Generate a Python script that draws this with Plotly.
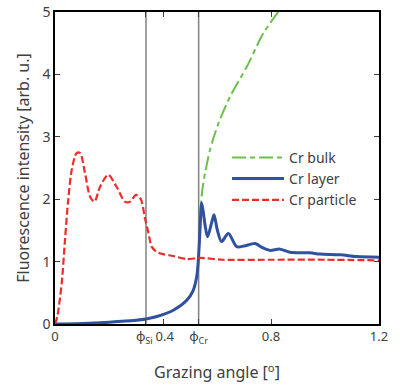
import plotly.graph_objects as go

# ---- data ----
phi_si = 0.337
phi_cr = 0.532

bulk_x = [0.0, 0.1, 0.2, 0.3, 0.337, 0.377, 0.438, 0.488, 0.512, 0.525, 0.531, 0.537, 0.543,
          0.549, 0.556, 0.574, 0.605, 0.648, 0.710, 0.772, 0.835]
bulk_y = [0.0, 0.01, 0.03, 0.06, 0.08, 0.12, 0.22, 0.38, 0.54, 0.76, 1.03, 1.55, 2.05,
          2.25, 2.42, 2.79, 3.21, 3.64, 4.12, 4.66, 5.05]

layer_x = [0.0, 0.1, 0.2, 0.3, 0.337, 0.377, 0.438, 0.488, 0.512, 0.525, 0.531, 0.537, 0.543,
           0.549, 0.556, 0.565, 0.58, 0.589, 0.601, 0.617, 0.642, 0.673, 0.70, 0.741, 0.77,
           0.796, 0.833, 0.87, 0.944, 0.981, 1.056, 1.117, 1.2]
layer_y = [0.0, 0.01, 0.03, 0.06, 0.08, 0.12, 0.22, 0.38, 0.54, 0.76, 1.03, 1.51, 1.94,
           1.80, 1.58, 1.40, 1.62, 1.75, 1.51, 1.32, 1.45, 1.24, 1.25, 1.29, 1.22,
           1.18, 1.20, 1.15, 1.14, 1.12, 1.11, 1.08, 1.07]

part_x = [0.0, 0.0085, 0.025, 0.037, 0.049, 0.062, 0.080, 0.093, 0.111, 0.130, 0.146, 0.167,
          0.197, 0.228, 0.259, 0.278, 0.300, 0.318, 0.333, 0.346, 0.358, 0.375, 0.4, 0.438,
          0.488, 0.537, 0.622, 0.8, 1.0, 1.2]
part_y = [0.0, 0.12, 0.66, 1.35, 1.99, 2.47, 2.74, 2.74, 2.42, 2.04, 1.96, 2.2,
          2.39, 2.2, 1.96, 1.96, 2.07, 2.0, 1.7, 1.46, 1.24, 1.16, 1.12, 1.09,
          1.04, 1.06, 1.03, 1.03, 1.03, 1.02]

x_tickvals = [0, phi_si, 0.4, phi_cr, 0.8, 1.2]
x_ticktext = ["0", "φ<sub>Si</sub>&nbsp;", "&nbsp;0.4", "φ<sub>Cr</sub>", "0.8", "1.2"]
y_tickvals = [0, 1, 2, 3, 4, 5]

font_family = "Noto Sans"
text_color = "#404040"

fig = go.Figure()
fig.add_trace(go.Scatter(x=bulk_x, y=bulk_y, mode="lines", name="Cr bulk",
                         line=dict(color="#6cc04a", width=2, dash="14px,4px,5px,4px", shape="spline", smoothing=0.8)))
fig.add_trace(go.Scatter(x=layer_x, y=layer_y, mode="lines", name="Cr layer",
                         line=dict(color="#3050a0", width=3, shape="spline", smoothing=0.8)))
fig.add_trace(go.Scatter(x=part_x, y=part_y, mode="lines", name="Cr particle",
                         line=dict(color="#ee2c2c", width=2.2, dash="7px,3px", shape="spline", smoothing=0.8)))

for v in (phi_si, phi_cr):
    fig.add_shape(type="line", xref="x", yref="paper", x0=v, x1=v, y0=0, y1=1,
                  line=dict(color="#808080", width=1.5), layer="below")

fig.update_layout(
    width=400, height=386,
    margin=dict(l=55, r=21, t=12, b=62, autoexpand=False),
    paper_bgcolor="white", plot_bgcolor="white",
    font=dict(family=font_family, color=text_color, size=13),
    showlegend=True,
    legend=dict(x=0.531, y=0.584, xanchor="left", yanchor="top",
                bgcolor="rgba(0,0,0,0)", font=dict(size=14, color=text_color),
                itemwidth=52, tracegroupgap=0),
)
fig.update_xaxes(range=[0, 1.2], tickvals=x_tickvals, ticktext=x_ticktext,
                 ticks="inside", ticklen=5, tickcolor="#404040", tickangle=0,
                 ticklabeloverflow="allow",
                 showline=True, linecolor="black", linewidth=1.5, mirror="ticks",
                 showgrid=False, zeroline=False, automargin=False,
                 tickfont=dict(size=13),
                 title=dict(text="Grazing angle [<sup>o</sup>]", font=dict(size=16), standoff=21))
fig.update_yaxes(range=[0, 5], tickvals=y_tickvals,
                 ticks="inside", ticklen=5, tickcolor="#404040",
                 ticklabeloverflow="allow",
                 showline=True, linecolor="black", linewidth=1.5, mirror="ticks",
                 showgrid=False, zeroline=False, automargin=False,
                 tickfont=dict(size=14),
                 title=dict(text="Fluorescence intensity [arb. u.]", font=dict(size=16), standoff=9))

fig.write_html("out.html", config={"displayModeBar": False},
               post_script="document.body.style.margin='0px';")
